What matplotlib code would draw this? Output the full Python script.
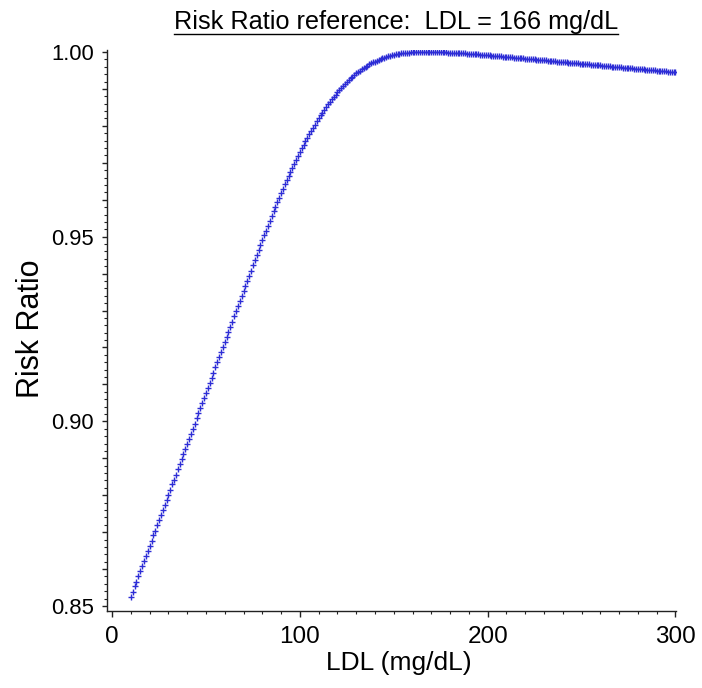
import numpy as np
import matplotlib
matplotlib.use("Agg")
import matplotlib.pyplot as plt
from matplotlib.ticker import FixedLocator, MultipleLocator, FuncFormatter
from matplotlib.lines import Line2D

# ---------------- data ----------------
ldl = list(range(10, 301))
risk_ratio = [
    0.8525, 0.8539, 0.8553, 0.8566, 0.8580, 0.8594, 0.8608, 0.8622, 0.8635, 0.8649,  # 10-19
    0.8663, 0.8677, 0.8691, 0.8704, 0.8718, 0.8732, 0.8746, 0.8760, 0.8773, 0.8787,  # 20-29
    0.8801, 0.8815, 0.8829, 0.8842, 0.8856, 0.8870, 0.8884, 0.8898, 0.8911, 0.8925,  # 30-39
    0.8939, 0.8953, 0.8967, 0.8980, 0.8994, 0.9008, 0.9022, 0.9036, 0.9049, 0.9063,  # 40-49
    0.9077, 0.9091, 0.9105, 0.9118, 0.9132, 0.9146, 0.9160, 0.9174, 0.9187, 0.9201,  # 50-59
    0.9215, 0.9229, 0.9243, 0.9256, 0.9270, 0.9284, 0.9298, 0.9312, 0.9325, 0.9339,  # 60-69
    0.9353, 0.93668, 0.93806, 0.93944, 0.94082, 0.9422, 0.94358, 0.94495, 0.94631, 0.94766,  # 70-79
    0.94900, 0.95033, 0.95165, 0.95296, 0.95426, 0.95555, 0.95683, 0.95810, 0.95935, 0.96059,  # 80-89
    0.96181, 0.96301, 0.96419, 0.96535, 0.96649, 0.96761, 0.96871, 0.96979, 0.97085, 0.97189,  # 90-99
    0.97291, 0.97391, 0.97489, 0.97585, 0.97679, 0.97771, 0.97861, 0.97949, 0.98035, 0.98119,  # 100-109
    0.98201, 0.98281, 0.98359, 0.98435, 0.98509, 0.98581, 0.98651, 0.98719, 0.98785, 0.98849,  # 110-119
    0.98911, 0.98971, 0.99029, 0.99085, 0.99139, 0.99191, 0.99241, 0.99289, 0.99335, 0.99379,  # 120-129
    0.99421, 0.99460, 0.99498, 0.99534, 0.99568, 0.99601, 0.99632, 0.99662, 0.99690, 0.99716,  # 130-139
    0.99742, 0.99766, 0.99788, 0.99809, 0.99829, 0.99847, 0.99865, 0.99881, 0.99895, 0.99909,  # 140-149
    0.99921, 0.99933, 0.99943, 0.99952, 0.99960, 0.99967, 0.99974, 0.99979, 0.99984, 0.99987,  # 150-159
    0.99991, 0.99993, 0.99995, 0.99996, 0.99997, 0.99998, 1.00000, 1.00000, 0.99999, 0.99999,  # 160-169
    0.99999, 0.99998, 0.99997, 0.99996, 0.99995, 0.99993, 0.99991, 0.99989, 0.99987, 0.99985,  # 170-179
    0.99983, 0.99981, 0.99978, 0.99976, 0.99973, 0.99970, 0.99967, 0.99964, 0.99960, 0.99957,  # 180-189
    0.99953, 0.99949, 0.99945, 0.99941, 0.99937, 0.99934, 0.99932, 0.99927, 0.99923, 0.99918,  # 190-199
    0.99913, 0.99909, 0.99904, 0.99900, 0.99895, 0.99890, 0.99886, 0.99881, 0.99876, 0.99872,  # 200-209
    0.99867, 0.99862, 0.99858, 0.99853, 0.99848, 0.99844, 0.99839, 0.99835, 0.99830, 0.99825,  # 210-219
    0.99821, 0.99816, 0.99811, 0.99807, 0.99802, 0.99797, 0.99793, 0.99788, 0.99784, 0.99779,  # 220-229
    0.99774, 0.99770, 0.99765, 0.99760, 0.99756, 0.99751, 0.99746, 0.99742, 0.99737, 0.99732,  # 230-239
    0.99728, 0.99723, 0.99719, 0.99714, 0.99709, 0.99705, 0.99700, 0.99695, 0.99691, 0.99686,  # 240-249
    0.99681, 0.99677, 0.99672, 0.99667, 0.99663, 0.99658, 0.99654, 0.99649, 0.99644, 0.99640,  # 250-259
    0.99635, 0.99630, 0.99626, 0.99621, 0.99616, 0.99612, 0.99607, 0.99602, 0.99598, 0.99593,  # 260-269
    0.99589, 0.99584, 0.99579, 0.99575, 0.99570, 0.99565, 0.99561, 0.99556, 0.99551, 0.99547,  # 270-279
    0.99542, 0.99538, 0.99533, 0.99528, 0.99524, 0.99519, 0.99514, 0.99510, 0.99505, 0.99500,  # 280-289
    0.99496, 0.99491, 0.99486, 0.99482, 0.99477, 0.99473, 0.99468, 0.99463, 0.99459, 0.99454,  # 290-299
    0.99449,  # 300
]

xticks = [0, 100, 200, 300]
xtick_labels = ["0", "100", "200", "300"]
yticks = [0.85, 0.90, 0.95, 1.00]
ytick_labels = ["0.85", "0.90", "0.95", "1.00"]

title_text = "Risk Ratio reference:  LDL = 166 mg/dL"
xlabel_text = "LDL (mg/dL)"
ylabel_text = "Risk Ratio"

# ---------------- figure ----------------
W, H = 702, 688
plt.rcParams["font.family"] = ["Liberation Sans", "DejaVu Sans"]
fig = plt.figure(figsize=(W / 100, H / 100), dpi=100)

left_px, right_px, top_px, bottom_px = 107, 676, 50, 611
ax = fig.add_axes([left_px / W, (H - bottom_px) / H,
                   (right_px - left_px) / W, (bottom_px - top_px) / H])

ax.plot(ldl, risk_ratio, linestyle="none", marker="+", markersize=4.8,
        markeredgewidth=1.0, color="#2d2dd6")

ax.set_xlim(-2.7, 300.3)
ax.set_ylim(0.84865, 1.00054)

for s in ["top", "right"]:
    ax.spines[s].set_visible(False)
for s in ["left", "bottom"]:
    ax.spines[s].set_linewidth(1.0)
    ax.spines[s].set_color("#222222")

# x ticks
ax.xaxis.set_major_locator(FixedLocator(xticks))
ax.set_xticklabels(xtick_labels)
ax.xaxis.set_minor_locator(MultipleLocator(10))
ax.tick_params(axis="x", which="major", direction="out", length=4, width=1,
               color="#222222", labelsize=17.5, pad=7)
ax.tick_params(axis="x", which="minor", direction="out", length=2.5, width=0.8,
               color="#222222")

# y ticks: medium ticks every 0.01, labels only at yticks
ymajor = [round(0.85 + 0.01 * i, 2) for i in range(16)]
ax.yaxis.set_major_locator(FixedLocator(ymajor))
label_map = {round(v, 2): l for v, l in zip(yticks, ytick_labels)}
ax.yaxis.set_major_formatter(FuncFormatter(lambda v, p: label_map.get(round(v, 2), "")))
ax.yaxis.set_minor_locator(MultipleLocator(0.002))
ax.tick_params(axis="y", which="major", direction="out", length=3.5, width=1,
               color="#222222", labelsize=15.8, pad=6)
ax.tick_params(axis="y", which="minor", direction="out", length=2, width=0.8,
               color="#222222")

# axis labels
fig.text(399 / W, (H - 663) / H, xlabel_text, ha="center", va="center",
         fontsize=19, color="black")
fig.text(31 / W, (H - 329) / H, ylabel_text, ha="center", va="center",
         rotation=90, fontsize=22, color="black")

# title with underline
t = fig.text(396 / W, (H - 29) / H, title_text, ha="center", va="baseline",
             fontsize=18.2, color="black")
fig.canvas.draw()
bb = t.get_window_extent(renderer=fig.canvas.get_renderer())
uy = (H - 33.5) / H
fig.add_artist(Line2D([bb.x0 / W, bb.x1 / W], [uy, uy], transform=fig.transFigure,
                      color="black", linewidth=1.0))

fig.savefig("out.png", dpi=100)
